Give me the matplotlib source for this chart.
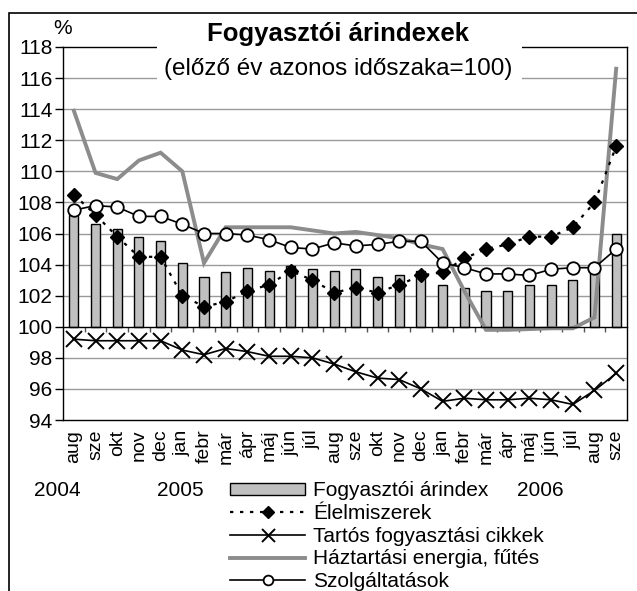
import matplotlib
matplotlib.use("Agg")
import matplotlib.pyplot as plt
from matplotlib.patches import Rectangle
import numpy as np

plt.rcParams['font.family'] = ['Liberation Sans', 'DejaVu Sans']

months = ["aug", "sze", "okt", "nov", "dec", "jan", "febr", "már", "ápr", "máj", "jún", "júl",
          "aug", "sze", "okt", "nov", "dec", "jan", "febr", "már", "ápr", "máj", "jún", "júl",
          "aug", "sze"]
years = ["2004", "2005", "2006"]

cpi = [107.2, 106.6, 106.3, 105.8, 105.5, 104.1, 103.2, 103.5, 103.8, 103.6, 103.9, 103.7,
       103.6, 103.7, 103.2, 103.3, 103.6, 102.7, 102.5, 102.3, 102.3, 102.7, 102.7, 103.0,
       103.6, 106.0]
food = [108.5, 107.2, 105.8, 104.5, 104.5, 102.0, 101.3, 101.6, 102.3, 102.7, 103.6, 103.0,
        102.2, 102.5, 102.2, 102.7, 103.3, 103.5, 104.4, 105.0, 105.3, 105.8, 105.8, 106.4,
        108.0, 111.6]
durable = [99.2, 99.1, 99.1, 99.1, 99.1, 98.5, 98.2, 98.6, 98.4, 98.1, 98.1, 98.0,
           97.6, 97.1, 96.7, 96.6, 96.0, 95.2, 95.4, 95.3, 95.3, 95.4, 95.3, 95.0,
           95.9, 97.0]
energy = [113.9, 109.9, 109.5, 110.7, 111.2, 110.0, 104.1, 106.4, 106.4, 106.4, 106.4, 106.2,
          106.0, 106.1, 105.9, 105.7, 105.3, 105.0, 102.3, 99.8, 99.8, 99.85, 99.9, 99.9,
          100.6, 116.6]
services = [107.5, 107.8, 107.7, 107.1, 107.1, 106.6, 106.0, 106.0, 105.9, 105.6, 105.1, 105.0,
            105.4, 105.2, 105.3, 105.5, 105.5, 104.1, 103.8, 103.4, 103.4, 103.3, 103.7, 103.8,
            103.8, 105.0]

labels = ["Fogyasztói árindex", "Élelmiszerek", "Tartós fogyasztási cikkek",
          "Háztartási energia, fűtés", "Szolgáltatások"]

W, H = 637, 591
fig = plt.figure(figsize=(W / 100, H / 100), dpi=100)
ax = fig.add_axes([63 / W, 1 - 420 / H, 564 / W, 373 / H])

x = np.arange(len(months))
ax.set_xlim(-0.5, len(months) - 0.5)
ax.set_ylim(94, 118)

ax.set_yticks(np.arange(94, 119, 2))
for yv in np.arange(96, 118, 2):
    if yv != 100:
        ax.axhline(yv, color='#9a9a9a', lw=1.0, zorder=0)

bars = ax.bar(x, np.array(cpi) - 100, bottom=100, width=0.42, color='#c0c0c0',
              edgecolor='black', linewidth=1.0, zorder=2)
l_energy, = ax.plot(x, energy, color='#8c8c8c', lw=2.8, zorder=3, solid_joinstyle='miter')
l_food, = ax.plot(x, food, color='black', lw=1.6, ls=(0, (1.5, 3)), marker='D', ms=7.5,
                  mfc='black', mec='black', zorder=4)
l_dur, = ax.plot(x, durable, color='black', lw=1.2, marker='x', ms=12, mew=1.4, zorder=4)
l_serv, = ax.plot(x, services, color='black', lw=1.2, marker='o', ms=9, mfc='white',
                  mec='black', mew=1.3, zorder=5)

# axis line at 100 with category separators
ax.spines['bottom'].set_position(('data', 100))
ax.spines['bottom'].set_zorder(6)
ax.set_xticks(np.arange(0.5, len(months) - 1, 1))
ax.set_xticklabels([])
ax.tick_params(axis='x', direction='out', length=3.6, width=1, color='#555555')
for s in ['top', 'right', 'left', 'bottom']:
    ax.spines[s].set_color('black')
    ax.spines[s].set_linewidth(1.0)

ax.tick_params(axis='y', direction='out', length=5.5, width=1, pad=2, labelsize=15)

sec = ax.secondary_xaxis(0)
sec.set_xticks(x)
sec.set_xticklabels(months, rotation=90, fontsize=14, va='top', ha='center')
sec.tick_params(axis='x', length=0, pad=7)
sec.spines['bottom'].set_linewidth(1.0)

# figure frame
fig.add_artist(Rectangle((9 / W, -0.05), 1.2, (H - 13) / H + 0.05, fill=False,
                         ec='black', lw=1.2, transform=fig.transFigure, zorder=1))

# title box covering grid
fig.add_artist(Rectangle((157 / W, 1 - 88 / H), (522 - 157) / W, (88 - 18) / H,
                         fc='white', ec='none', transform=fig.transFigure, zorder=5))
fig.text(338 / W, 1 - 34 / H, "Fogyasztói árindexek", fontsize=18.5, fontweight='bold',
         ha='center', va='center', zorder=6)
fig.text(338 / W, 1 - 69 / H, "(előző év azonos időszaka=100)", fontsize=17.5,
         ha='center', va='center', zorder=6)
fig.text(63 / W, 1 - 29 / H, "%", fontsize=15, ha='center', va='center', zorder=6)

for yr, xc in zip(years, [57, 180, 540]):
    fig.text(xc / W, 1 - 490 / H, yr, fontsize=15, ha='center', va='center')

ax.legend([bars, l_food, l_dur, l_energy, l_serv], labels, loc='upper left',
          bbox_to_anchor=(230 / W, 1 - 481 / H), bbox_transform=fig.transFigure,
          frameon=False, fontsize=15, handlelength=3.6, handletextpad=0.38,
          handleheight=0.5, labelspacing=0.18, borderpad=0, borderaxespad=0,
          numpoints=1, markerscale=0.78)

fig.savefig("out.png", dpi=100)
